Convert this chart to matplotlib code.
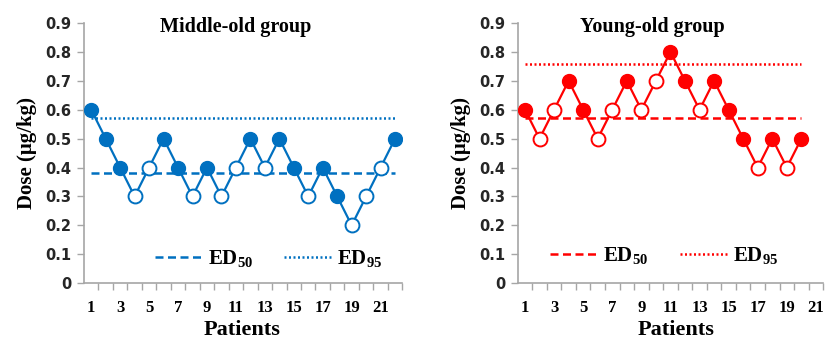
import numpy as np
import matplotlib.pyplot as plt
from matplotlib.ticker import FixedLocator, FuncFormatter

plt.rcParams['mathtext.fontset'] = 'custom'
plt.rcParams['mathtext.rm'] = 'Liberation Serif:bold'
plt.rcParams['mathtext.bf'] = 'Liberation Serif:bold'
plt.rcParams['mathtext.default'] = 'bf'

# Up-and-down sequences: dose per patient, 1 = response (filled), 0 = no response (open)
middle_dose = [0.6, 0.5, 0.4, 0.3, 0.4, 0.5, 0.4, 0.3, 0.4, 0.3, 0.4,
               0.5, 0.4, 0.5, 0.4, 0.3, 0.4, 0.3, 0.2, 0.3, 0.4, 0.5]
middle_filled = [1, 1, 1, 0, 0, 1, 1, 0, 1, 0, 0,
                 1, 0, 1, 1, 0, 1, 1, 0, 0, 0, 1]
middle_ed50, middle_ed95 = 0.38, 0.57

young_dose = [0.6, 0.5, 0.6, 0.7, 0.6, 0.5, 0.6, 0.7, 0.6, 0.7,
              0.8, 0.7, 0.6, 0.7, 0.6, 0.5, 0.4, 0.5, 0.4, 0.5]
young_filled = [1, 0, 0, 1, 1, 0, 0, 1, 0, 0,
                1, 1, 0, 1, 1, 1, 0, 1, 0, 1]
young_ed50, young_ed95 = 0.57, 0.76

y_ticks = [0, 0.1, 0.2, 0.3, 0.4, 0.5, 0.6, 0.7, 0.8, 0.9]

serif = 'Liberation Serif'
axis_grey = '#a6a6a6'


def panel(ax, dose, filled, ed50, ed95, n_cat, color, title, title_x, xlab_x, leg_anchor):
    x = np.arange(1, len(dose) + 1)
    dose = np.array(dose)
    filled = np.array(filled, dtype=bool)
    ax.plot(x, dose, color=color, lw=1.6, zorder=3)
    ax.plot(x[filled], dose[filled], 'o', ms=10, color=color, zorder=4)
    ax.plot(x[~filled], dose[~filled], 'o', ms=10, mfc='white', mec=color,
            mew=1.4, zorder=4)
    ax.plot([1, len(dose)], [ed50, ed50], color=color, lw=1.8,
            ls=(0, (3.2, 1.8)), label=r'$ED_{50}$', zorder=2)
    ax.plot([1, len(dose)], [ed95, ed95], color=color, lw=1.8,
            ls=(0, (0.8, 1.0)), label=r'$ED_{95}$', zorder=2)

    ax.set_xlim(0.5, n_cat + 0.5)
    ax.set_ylim(0, 0.9)
    ax.yaxis.set_major_locator(FixedLocator(y_ticks))
    ax.yaxis.set_major_formatter(FuncFormatter(lambda v, p: '0' if v == 0 else f'{v:.1f}'))
    ax.xaxis.set_major_locator(FixedLocator(np.arange(1, n_cat + 1, 2)))
    ax.xaxis.set_minor_locator(FixedLocator(np.arange(1.5, n_cat + 0.6, 1)))
    ax.tick_params(axis='x', which='major', length=0, pad=12)
    ax.tick_params(axis='x', which='minor', length=5, color=axis_grey, width=1)
    ax.tick_params(axis='y', length=5, color=axis_grey, width=1, pad=4)
    for lab in ax.get_xticklabels():
        lab.set_fontfamily(serif)
        lab.set_fontweight('bold')
        lab.set_fontsize(12)
    for lab in ax.get_yticklabels():
        lab.set_fontfamily('DejaVu Sans')
        lab.set_fontweight('bold')
        lab.set_fontsize(10.5)
        lab.set_color('#262626')

    for side in ['top', 'right']:
        ax.spines[side].set_visible(False)
    for side in ['left', 'bottom']:
        ax.spines[side].set_color(axis_grey)
        ax.spines[side].set_linewidth(1.2)

    ax.set_title(title, fontfamily=serif, fontweight='bold', fontsize=14.5,
                 pad=-2, x=title_x, y=0.975)
    ax.set_xlabel('Patients', fontfamily=serif, fontweight='bold', fontsize=16,
                  labelpad=3, x=xlab_x)
    ax.set_ylabel('Dose (μg/kg)', fontfamily=serif, fontweight='bold', fontsize=15, labelpad=6)
    ax.legend(loc='center', bbox_to_anchor=leg_anchor, ncol=2, frameon=False,
              handlelength=2.3, columnspacing=1.5, handletextpad=0.25,
              prop={'family': serif, 'weight': 'bold', 'size': 15})


fig = plt.figure(figsize=(8.29, 3.44), dpi=100)
ax1 = fig.add_axes([0.1013, 0.177, 0.384, 0.756])
ax2 = fig.add_axes([0.6245, 0.177, 0.3685, 0.756])

panel(ax1, middle_dose, middle_filled, middle_ed50, middle_ed95, 22,
      '#0070c0', 'Middle-old group', 0.478, 0.497, (0.58, 0.095))
panel(ax2, young_dose, young_filled, young_ed50, young_ed95, 21,
      '#ff0000', 'Young-old group', 0.44, 0.518, (0.48, 0.105))

fig.savefig('out.png', dpi=100)
